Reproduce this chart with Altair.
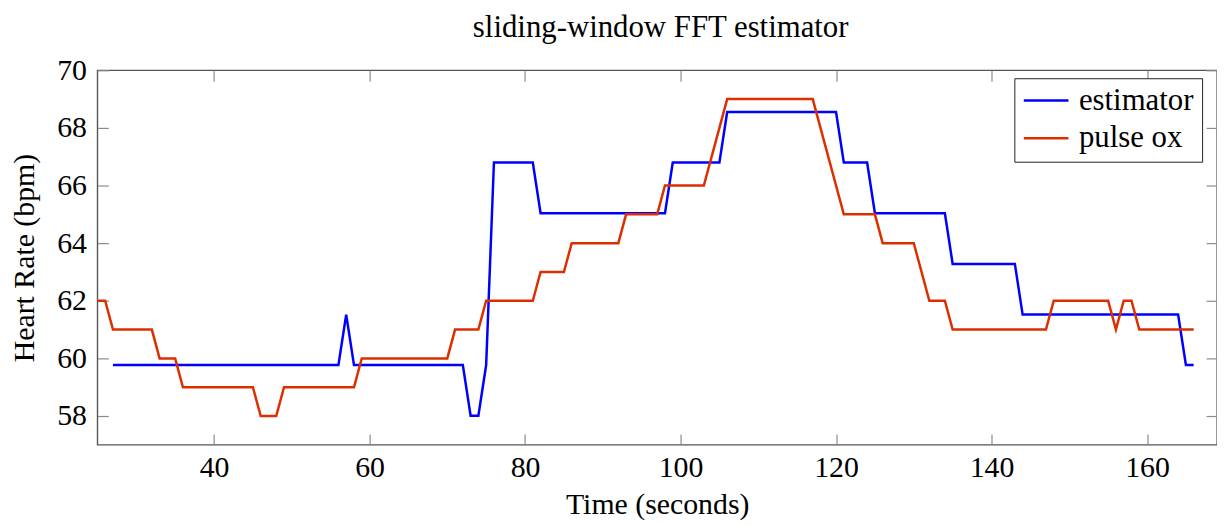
import altair as alt
import pandas as pd

# corner points of each trace (seconds, bpm); straight segments in between
est_t = [27, 56, 57, 58, 72, 73, 74, 75, 76, 81, 82, 98, 99, 105, 106, 120,
         121, 124, 125, 134, 135, 143, 144, 164, 165, 166]
est_bpm = [59.77, 59.77, 61.52, 59.77, 59.77, 58.01, 58.01, 59.77, 66.80, 66.80,
           65.04, 65.04, 66.80, 66.80, 68.55, 68.55, 66.80, 66.80, 65.04, 65.04,
           63.28, 63.28, 61.52, 61.52, 59.77, 59.77]

pox_t = [25, 26, 27, 32, 33, 35, 36, 45, 46, 48, 49, 58, 59, 70, 71, 74, 75, 81,
         82, 85, 86, 92, 93, 97, 98, 103, 106, 117, 121, 125, 126, 130, 132, 134,
         135, 147, 148, 155, 156, 157, 158, 159, 166]
pox_bpm = [62, 62, 61, 61, 60, 60, 59, 59, 58, 58, 59, 59, 60, 60, 61, 61, 62, 62,
           63, 63, 64, 64, 65, 65, 66, 66, 69, 69, 65, 65, 64, 64, 62, 62,
           61, 61, 62, 62, 61, 62, 62, 61, 61]

series_names = ["estimator", "pulse ox"]
series_colors = ["#0000ff", "#dc2f00"]
x_ticks = [40, 60, 80, 100, 120, 140, 160]
y_ticks = [58, 60, 62, 64, 66, 68, 70]

df = pd.concat([
    pd.DataFrame({"t": est_t, "bpm": est_bpm, "series": "estimator"}),
    pd.DataFrame({"t": pox_t, "bpm": pox_bpm, "series": "pulse ox"}),
])

FONT = "Liberation Serif"
W, H = 1127, 377
TICK = 11
xs = alt.Scale(domain=[25, 169], nice=False, zero=False)
ys = alt.Scale(domain=[57, 70], nice=False, zero=False)


def tick_axis(orient, **extra):
    # inward ticks only: axis pulled inside the frame by the tick length
    opts = dict(orient=orient, offset=-TICK, tickSize=TICK, ticks=True,
                labels=False, domain=False, grid=False, title=None,
                tickColor="#8c8c8c", tickWidth=1.2,
                values=x_ticks if orient in ("top", "bottom") else y_ticks)
    opts.update(extra)
    return alt.Axis(**opts)


lines = alt.Chart(df).mark_line(strokeWidth=2.5).encode(
    x=alt.X("t:Q", scale=xs, axis=alt.Axis(
        orient="bottom", values=x_ticks, ticks=False, tickSize=0, domain=False,
        grid=False, labelPadding=8, labelFontSize=30, labelFont=FONT,
        labelColor="black", title="Time (seconds)", titleFont=FONT,
        titleFontSize=30, titleFontWeight="normal", titleColor="black",
        titleBaseline="alphabetic", titleX=W / 2, titleY=69)),
    y=alt.Y("bpm:Q", scale=ys, axis=alt.Axis(
        orient="left", values=y_ticks, ticks=False, tickSize=0, domain=False,
        grid=False, labelPadding=11, labelFontSize=30, labelFont=FONT,
        labelColor="black", title="Heart Rate (bpm)", titleFont=FONT,
        titleFontSize=30, titleFontWeight="normal", titleColor="black",
        titleBaseline="alphabetic", titleAngle=270, titleX=-64, titleY=H / 2)),
    color=alt.Color("series:N", scale=alt.Scale(domain=series_names, range=series_colors),
                    legend=alt.Legend(
                        title=None, orient="none", legendX=923, legendY=8,
                        symbolType="stroke", symbolSize=2025, symbolStrokeWidth=2.5,
                        labelFont=FONT, labelFontSize=31, labelColor="black",
                        labelOffset=9, rowPadding=6, clipHeight=29, padding=8,
                        strokeColor="#222222", fillColor="white")),
    detail="series:N",
)

ticks_bl = alt.Chart(df).mark_point(opacity=0).encode(
    x=alt.X("t:Q", scale=xs, axis=tick_axis("bottom")),
    y=alt.Y("bpm:Q", scale=ys, axis=tick_axis("left")),
)
# the top tick axis also carries the chart title
ticks_tr = alt.Chart(df).mark_point(opacity=0).encode(
    x=alt.X("t:Q", scale=xs, axis=tick_axis(
        "top", title="sliding-window FFT estimator", titleFont=FONT,
        titleFontSize=31, titleFontWeight="normal", titleColor="black",
        titleBaseline="alphabetic", titleX=W / 2 + 3, titleY=-45)),
    y=alt.Y("bpm:Q", scale=ys, axis=tick_axis("right")),
)

chart = alt.layer(ticks_bl, ticks_tr, lines).resolve_axis(
    x="independent", y="independent"
).properties(
    width=W,
    height=H,
    autosize=alt.AutoSizeParams(type="none"),
    padding={"left": 90, "top": 61, "right": 0, "bottom": 79},
).configure(
    background="white",
    view=alt.ViewConfig(stroke="#555555", strokeWidth=1.4),
)

chart.save("out.html", embed_options={"renderer": "svg", "actions": False})
